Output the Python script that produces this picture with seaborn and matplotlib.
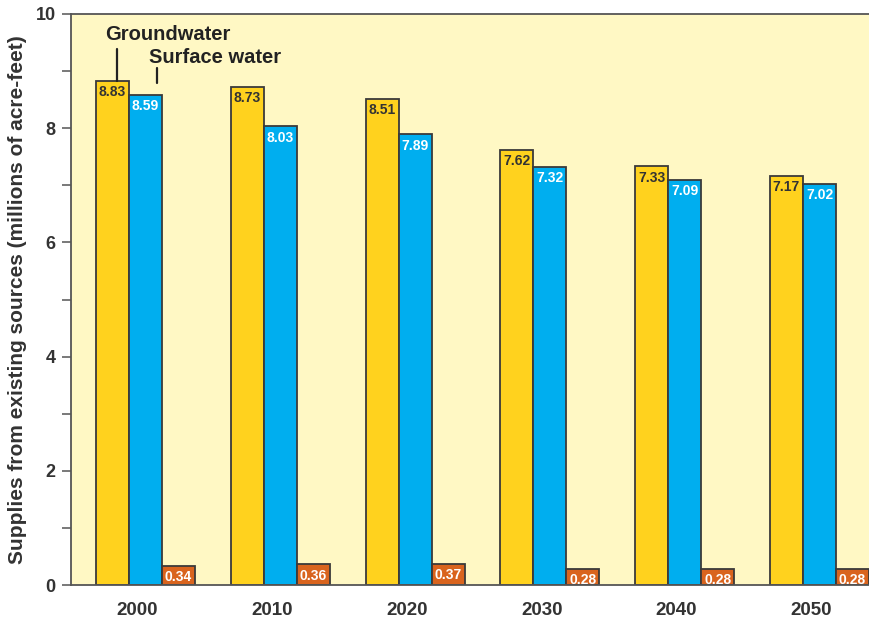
import numpy as np
import pandas as pd
import matplotlib
matplotlib.use("Agg")
import matplotlib.pyplot as plt
from matplotlib.ticker import MultipleLocator
import seaborn as sns

# Supplies from existing sources, millions of acre-feet
years = ["2000", "2010", "2020", "2030", "2040", "2050"]
groundwater = [8.83, 8.73, 8.51, 7.62, 7.33, 7.17]
surface_water = [8.59, 8.03, 7.89, 7.32, 7.09, 7.02]
reuse = [0.34, 0.36, 0.37, 0.28, 0.28, 0.28]
sources = ["Groundwater", "Surface water", "Reuse"]

bar_colors = ["#FFD21E", "#00AEEF", "#D9641E"]
label_colors = ["#333333", "white", "white"]
ink = "#333333"

df = pd.DataFrame({
    "year": years * 3,
    "source": np.repeat(sources, len(years)),
    "supply": groundwater + surface_water + reuse,
})

sns.set_style("white")
plt.rcParams["font.family"] = ["Liberation Sans", "DejaVu Sans"]
plt.rcParams["font.weight"] = "bold"

fig = plt.figure(figsize=(8.7, 6.2), dpi=100)
ax = fig.add_axes([71 / 870, 35 / 620, 799 / 870, 571 / 620])
ax.set_facecolor("#FFF8C4")

sns.barplot(data=df, x="year", y="supply", hue="source", hue_order=sources,
            order=years, palette=bar_colors, width=0.735, gap=0,
            edgecolor="#3a3a3a", linewidth=1.3, saturation=1,
            legend=False, ax=ax)

# value labels inside the top of each bar
for container, tcolor in zip(ax.containers, label_colors):
    for patch in container:
        h = patch.get_height()
        ax.annotate(f"{h:.2f}", (patch.get_x() + patch.get_width() / 2, h),
                    xytext=(0, -3), textcoords="offset points",
                    ha="center", va="top", fontsize=10, fontweight="bold",
                    color=tcolor)

# series callouts above the first group
gw_bar = ax.containers[0][0]
sw_bar = ax.containers[1][0]
gx = gw_bar.get_x() + gw_bar.get_width() / 2 + 0.03
sx = sw_bar.get_x() + sw_bar.get_width() / 2 + 0.085
ax.plot([gx, gx], [gw_bar.get_height(), 9.39], color="#222222", lw=1.6)
ax.plot([sx, sx], [8.79, 9.05], color="#222222", lw=1.6)
ax.text(-0.30, 9.54, "Groundwater", fontsize=14.5, fontweight="bold",
        color="#222222", ha="left", va="baseline")
ax.text(0.026, 9.14, "Surface water", fontsize=14.5, fontweight="bold",
        color="#222222", ha="left", va="baseline")

ax.set_xlim(-0.553, 5.375)
ax.set_ylim(0, 10)
ax.set_xticks(np.arange(len(years)) - 0.06)
ax.set_xticklabels(years)
ax.yaxis.set_major_locator(MultipleLocator(2))
ax.yaxis.set_minor_locator(MultipleLocator(1))
ax.tick_params(axis="x", length=0, pad=12, labelsize=13.5, labelcolor=ink)
ax.tick_params(axis="y", which="both", left=True, length=6.5, width=1.1,
               color="#555555", pad=4.5, labelsize=13, labelcolor=ink)
for lab in ax.get_xticklabels() + ax.get_yticklabels():
    lab.set_fontweight("bold")

ax.set_xlabel("")
ax.set_ylabel("Supplies from existing sources (millions of acre-feet)",
              fontsize=15, fontweight="bold", color=ink, labelpad=6)

for side in ["left", "top", "bottom"]:
    ax.spines[side].set_color("#555555")
    ax.spines[side].set_linewidth(1.3)
ax.spines["right"].set_visible(False)

fig.savefig("out.png", dpi=100)
